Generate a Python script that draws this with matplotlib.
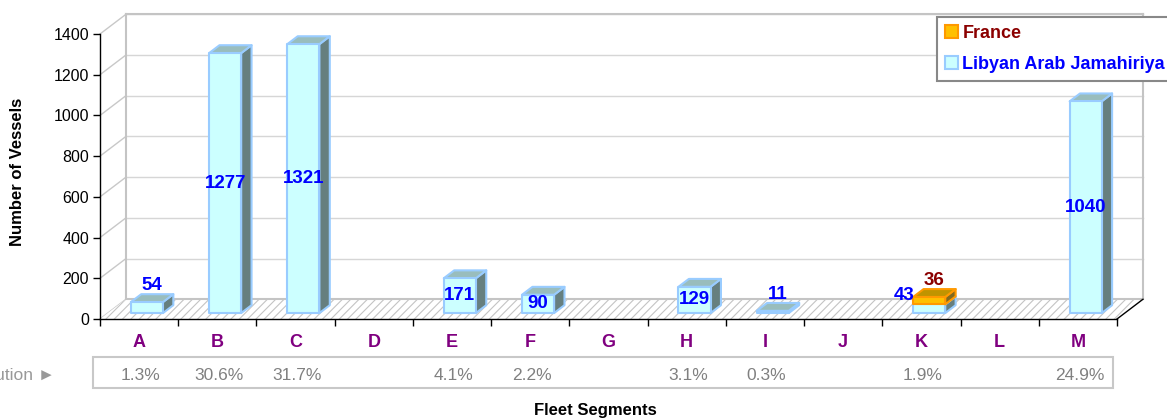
import matplotlib.pyplot as plt
from matplotlib.patches import Polygon, Rectangle
from matplotlib.transforms import blended_transform_factory

plt.rcParams['font.family'] = ['Liberation Sans', 'DejaVu Sans']
plt.rcParams['hatch.linewidth'] = 0.8
plt.rcParams['hatch.color'] = '#C4C4C4'

# data
categories = ['A', 'B', 'C', 'D', 'E', 'F', 'G', 'H', 'I', 'J', 'K', 'L', 'M']
libya = [54, 1277, 1321, 0, 171, 90, 0, 129, 11, 0, 43, 0, 1040]
france = [0, 0, 0, 0, 0, 0, 0, 0, 0, 0, 36, 0, 0]
shares = ['1.3%', '30.6%', '31.7%', '', '4.1%', '2.2%', '', '3.1%', '0.3%', '', '1.9%', '', '24.9%']
yticks = [0, 200, 400, 600, 800, 1000, 1200, 1400]

# fake 3d settings (data units)
DX, DY = 0.332, 97.0
W = 0.41
D0, D1 = 0.3, 0.7
X0, X1 = -0.5, 12.5

lib_cols = dict(front='#CCFFFF', top='#99BDBD', side='#667F7F', edge='#99CCFF')
fra_cols = dict(front='#FFC000', top='#C09400', side='#806A20', edge='#FF9900')

fig = plt.figure(figsize=(11.67, 4.2), dpi=100)
ax = fig.add_axes([100 / 1167, 101 / 420, 1017 / 1167, 285 / 420])
ax.set_xlim(X0, X1)
ax.set_ylim(0, 1400)
ax.patch.set_visible(False)

# back wall + side wall grid
for v in yticks:
    if v > 0:
        ax.plot([X0 + DX, X1 + DX], [v + DY, v + DY], color='#D6D6D6', lw=1, clip_on=False, zorder=1)
    ax.plot([X0, X0 + DX], [v, v + DY], color='#C8C8C8', lw=1, clip_on=False, zorder=1)
ax.plot([X0 + DX, X0 + DX], [DY, 1400 + DY], color='#C4C4C4', lw=1.5, clip_on=False, zorder=1)
ax.plot([X1 + DX, X1 + DX], [DY, 1400 + DY], color='#C4C4C4', lw=1.5, clip_on=False, zorder=1)
ax.plot([X0 + DX, X1 + DX], [1400 + DY, 1400 + DY], color='#C4C4C4', lw=1.5, clip_on=False, zorder=1)

# floor
floor = Polygon([(X0, 0), (X1, 0), (X1 + DX, DY), (X0 + DX, DY)], closed=True,
                facecolor='white', edgecolor='#C4C4C4', hatch='////', lw=0, clip_on=False, zorder=2)
ax.add_patch(floor)
ax.plot([X0 + DX, X1 + DX], [DY, DY], color='#C4C4C4', lw=1.5, clip_on=False, zorder=2)
ax.plot([X1, X1 + DX], [0, DY], color='black', lw=1, clip_on=False, zorder=3)


def box(i, y0, y1, c):
    xl = i + D0 * DX - W / 2
    xr = xl + W
    b0, b1 = y0 + D0 * DY, y1 + D0 * DY
    ddx, ddy = (D1 - D0) * DX, (D1 - D0) * DY
    front = Polygon([(xl, b0), (xr, b0), (xr, b1), (xl, b1)])
    top = Polygon([(xl, b1), (xr, b1), (xr + ddx, b1 + ddy), (xl + ddx, b1 + ddy)])
    side = Polygon([(xr, b0), (xr + ddx, b0 + ddy), (xr + ddx, b1 + ddy), (xr, b1)])
    for p, fc in ((side, c['side']), (top, c['top']), (front, c['front'])):
        p.set_facecolor(fc)
        p.set_edgecolor(c['edge'])
        p.set_linewidth(1.5)
        p.set_joinstyle('round')
        p.set_clip_on(False)
        p.set_zorder(4)
        ax.add_patch(p)


lab = dict(fontsize=13.5, fontweight='bold', zorder=6, clip_on=False)
for i, (lv, fv) in enumerate(zip(libya, france)):
    if lv > 0:
        box(i, 0, lv, lib_cols)
    if fv > 0:
        box(i, lv, lv + fv, fra_cols)
    if lv <= 0:
        continue
    xc = i + D0 * DX
    if fv > 0:
        ax.text(xc - W / 2 + 0.02, lv + fv + D0 * DY + 5, str(lv), color='#0000FF', ha='right', va='center', **lab)
        ax.text(i + 0.5 * DX, lv + fv + D1 * DY, str(fv), color='#8B0000', ha='center', va='bottom', **lab)
    elif lv < 60:
        ax.text(i + 0.5 * DX, lv + D1 * DY, str(lv), color='#0000FF', ha='center', va='bottom', **lab)
    else:
        ax.text(xc, lv / 2 + D0 * DY, str(lv), color='#0000FF', ha='center', va='center', **lab)

# axes
for s in ('top', 'right'):
    ax.spines[s].set_visible(False)
ax.spines['left'].set_linewidth(1)
ax.spines['bottom'].set_linewidth(1)
ax.spines['left'].set_zorder(3)
ax.spines['bottom'].set_zorder(3)
ax.set_yticks(yticks)
ax.tick_params(axis='y', length=5, width=1, pad=3, labelsize=11.5)
ax.set_xticks([x + 0.5 for x in range(-1, 13)])
ax.set_xticklabels([])
ax.tick_params(axis='x', which='major', length=5, width=1)
ax.set_xticks(range(len(categories)), minor=True)
ax.set_xticklabels(categories, minor=True, color='#800080', fontsize=13, fontweight='bold')
ax.tick_params(axis='x', which='minor', length=0, pad=11)

# share row
fig.add_artist(Rectangle((93 / 1167, 1 - 388 / 420), 1020 / 1167, 31 / 420, transform=fig.transFigure,
                         facecolor='none', edgecolor='#C8C8C8', lw=1.5))
tr = blended_transform_factory(ax.transData, fig.transFigure)
for i, s in enumerate(shares):
    if s:
        ax.text(i + 0.02, 1 - 375 / 420, s, transform=tr, ha='center', va='center',
                fontsize=12.5, color='#808080', clip_on=False)
fig.text(55 / 1167, 1 - 375 / 420, 'Distribution \u25ba', ha='right', va='center', fontsize=12.5, color='#999999')

fig.text(18 / 1167, 1 - 172 / 420, 'Number of Vessels', rotation=90, ha='center', va='center',
         fontsize=12, fontweight='bold')
fig.text(595 / 1167, 1 - 410 / 420, 'Fleet Segments', ha='center', va='center', fontsize=12, fontweight='bold')

# legend
h1 = Rectangle((0, 0), 1, 1, facecolor=fra_cols['front'], edgecolor=fra_cols['edge'], lw=1.5)
h2 = Rectangle((0, 0), 1, 1, facecolor=lib_cols['front'], edgecolor=lib_cols['edge'], lw=1.5)
leg = fig.legend([h1, h2], ['France', 'Libyan Arab Jamahiriya'], loc='upper left',
                 bbox_to_anchor=(937 / 1167, 1 - 17 / 420), fancybox=False, framealpha=1,
                 edgecolor='#888888', handlelength=0.7, handleheight=0.7, handletextpad=0.25,
                 labelspacing=0.75, borderpad=0.45, borderaxespad=0,
                 prop=dict(size=13, weight='bold'), labelcolor=['#8B0000', '#0000FF'])
leg.get_frame().set_linewidth(1.5)

fig.savefig('out.png', dpi=100)
